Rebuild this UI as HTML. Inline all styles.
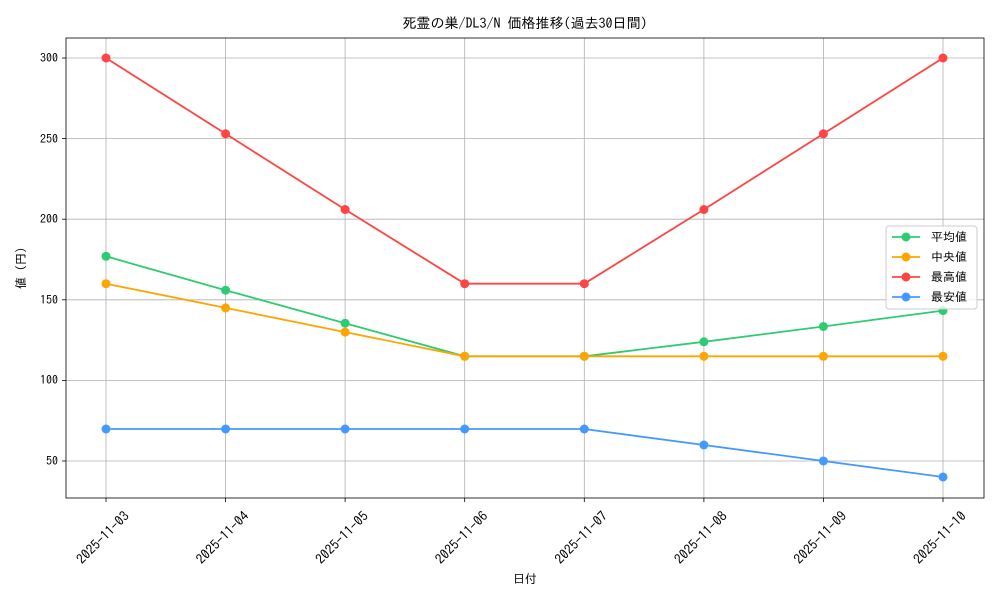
<!DOCTYPE html>
<html><head><meta charset="utf-8"><style>
body{margin:0;background:#fff}
svg text{font-family:"IPAGothic","Noto Sans CJK JP",monospace;fill:#000}
</style></head><body>
<svg width="1000" height="600" xmlns="http://www.w3.org/2000/svg">
<rect width="1000" height="600" fill="#fff"/>
<g stroke="#b0b0b0" stroke-width="0.8">
<line x1="106" y1="38" x2="106" y2="498"/><line x1="225.6" y1="38" x2="225.6" y2="498"/>
<line x1="345.1" y1="38" x2="345.1" y2="498"/><line x1="464.7" y1="38" x2="464.7" y2="498"/>
<line x1="584.3" y1="38" x2="584.3" y2="498"/><line x1="703.9" y1="38" x2="703.9" y2="498"/>
<line x1="823.4" y1="38" x2="823.4" y2="498"/><line x1="943" y1="38" x2="943" y2="498"/>
<line x1="66" y1="58" x2="984" y2="58"/><line x1="66" y1="138.6" x2="984" y2="138.6"/>
<line x1="66" y1="219.2" x2="984" y2="219.2"/><line x1="66" y1="299.8" x2="984" y2="299.8"/>
<line x1="66" y1="380.4" x2="984" y2="380.4"/><line x1="66" y1="461" x2="984" y2="461"/>
</g>
<rect x="66" y="38" width="918" height="460" fill="none" stroke="#000" stroke-width="0.8"/>
<g stroke="#000" stroke-width="0.8">
<line x1="62" y1="58" x2="66" y2="58"/><line x1="62" y1="138.6" x2="66" y2="138.6"/><line x1="62" y1="219.2" x2="66" y2="219.2"/><line x1="62" y1="299.8" x2="66" y2="299.8"/><line x1="62" y1="380.4" x2="66" y2="380.4"/><line x1="62" y1="461" x2="66" y2="461"/>
<line x1="106" y1="498" x2="106" y2="502"/><line x1="225.6" y1="498" x2="225.6" y2="502"/><line x1="345.1" y1="498" x2="345.1" y2="502"/><line x1="464.7" y1="498" x2="464.7" y2="502"/><line x1="584.3" y1="498" x2="584.3" y2="502"/><line x1="703.9" y1="498" x2="703.9" y2="502"/><line x1="823.4" y1="498" x2="823.4" y2="502"/><line x1="943" y1="498" x2="943" y2="502"/>
</g>
<g font-size="12" text-anchor="end">
<text x="58" y="62">300</text><text x="58" y="143">250</text><text x="58" y="223">200</text><text x="58" y="304">150</text><text x="58" y="384">100</text><text x="58" y="465">50</text>
</g>
<g font-size="13.5" text-anchor="end">
<text transform="translate(130,517) rotate(-45)">2025-11-03</text>
<text transform="translate(249.6,517) rotate(-45)">2025-11-04</text>
<text transform="translate(369.1,517) rotate(-45)">2025-11-05</text>
<text transform="translate(488.7,517) rotate(-45)">2025-11-06</text>
<text transform="translate(608.3,517) rotate(-45)">2025-11-07</text>
<text transform="translate(727.9,517) rotate(-45)">2025-11-08</text>
<text transform="translate(847.4,517) rotate(-45)">2025-11-09</text>
<text transform="translate(967,517) rotate(-45)">2025-11-10</text>
</g>
<text x="525" y="583" font-size="12" text-anchor="middle">日付</text>
<text transform="translate(25,268) rotate(-90)" font-size="12" text-anchor="middle">値 (円)</text>
<text x="525" y="28" font-size="14" text-anchor="middle">死霊の巣/DL3/N 価格推移(過去30日間)</text>
<g fill="none" stroke-width="1.8">
<polyline stroke="#2ecc71" points="106,256.3 225.6,290.2 345.1,323.2 464.7,356.3 584.3,356.3 703.9,341.8 823.4,326.5 943,310.6"/>
<polyline stroke="#ffa500" points="106,283.7 225.6,307.9 345.1,332.1 464.7,356.3 584.3,356.3 703.9,356.3 823.4,356.3 943,356.3"/>
<polyline stroke="#ff4444" points="106,58 225.6,133.8 345.1,209.5 464.7,283.7 584.3,283.7 703.9,209.5 823.4,133.8 943,58"/>
<polyline stroke="#4499ff" points="106,429 225.6,429 345.1,429 464.7,429 584.3,429 703.9,445 823.4,461 943,477"/>
</g>
<g fill="#2ecc71"><circle cx="106" cy="256.3" r="4.5"/><circle cx="225.6" cy="290.2" r="4.5"/><circle cx="345.1" cy="323.2" r="4.5"/><circle cx="464.7" cy="356.3" r="4.5"/><circle cx="584.3" cy="356.3" r="4.5"/><circle cx="703.9" cy="341.8" r="4.5"/><circle cx="823.4" cy="326.5" r="4.5"/><circle cx="943" cy="310.6" r="4.5"/></g>
<g fill="#ffa500"><circle cx="106" cy="283.7" r="4.5"/><circle cx="225.6" cy="307.9" r="4.5"/><circle cx="345.1" cy="332.1" r="4.5"/><circle cx="464.7" cy="356.3" r="4.5"/><circle cx="584.3" cy="356.3" r="4.5"/><circle cx="703.9" cy="356.3" r="4.5"/><circle cx="823.4" cy="356.3" r="4.5"/><circle cx="943" cy="356.3" r="4.5"/></g>
<g fill="#ff4444"><circle cx="106" cy="58" r="4.5"/><circle cx="225.6" cy="133.8" r="4.5"/><circle cx="345.1" cy="209.5" r="4.5"/><circle cx="464.7" cy="283.7" r="4.5"/><circle cx="584.3" cy="283.7" r="4.5"/><circle cx="703.9" cy="209.5" r="4.5"/><circle cx="823.4" cy="133.8" r="4.5"/><circle cx="943" cy="58" r="4.5"/></g>
<g fill="#4499ff"><circle cx="106" cy="429" r="4.5"/><circle cx="225.6" cy="429" r="4.5"/><circle cx="345.1" cy="429" r="4.5"/><circle cx="464.7" cy="429" r="4.5"/><circle cx="584.3" cy="429" r="4.5"/><circle cx="703.9" cy="445" r="4.5"/><circle cx="823.4" cy="461" r="4.5"/><circle cx="943" cy="477" r="4.5"/></g>
<rect x="886" y="226" width="91" height="83" rx="3" fill="#fff" fill-opacity="0.8" stroke="#ccc"/>
<g stroke-width="1.8">
<line x1="892" y1="237" x2="920" y2="237" stroke="#2ecc71"/><circle cx="906" cy="237" r="4.5" fill="#2ecc71"/>
<line x1="892" y1="257" x2="920" y2="257" stroke="#ffa500"/><circle cx="906" cy="257" r="4.5" fill="#ffa500"/>
<line x1="892" y1="277" x2="920" y2="277" stroke="#ff4444"/><circle cx="906" cy="277" r="4.5" fill="#ff4444"/>
<line x1="892" y1="297" x2="920" y2="297" stroke="#4499ff"/><circle cx="906" cy="297" r="4.5" fill="#4499ff"/>
</g>
<g font-size="12"><text x="931" y="241">平均値</text><text x="931" y="261">中央値</text><text x="931" y="281">最高値</text><text x="931" y="301">最安値</text></g>
</svg>
</body></html>
